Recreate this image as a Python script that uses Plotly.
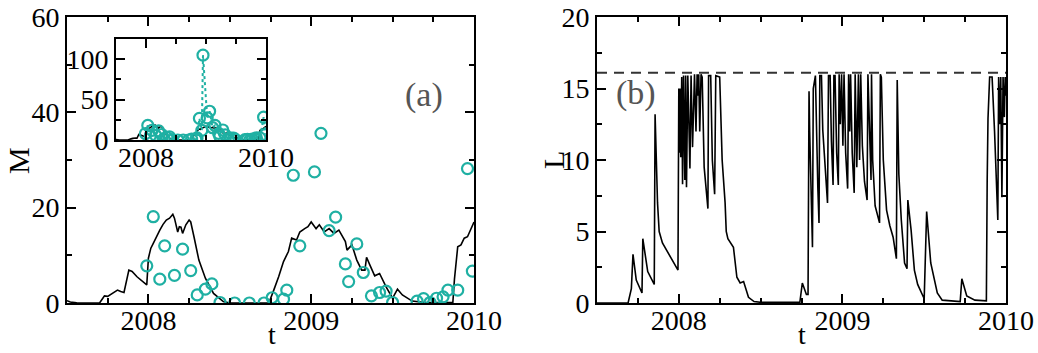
import plotly.graph_objects as go

# ---------------- data ----------------
# model curve M(t) (black line, panel a and inset)
model_t = [2007.50, 2007.52, 2007.56, 2007.70, 2007.72, 2007.73, 2007.75, 2007.78, 2007.81, 2007.83,
           2007.85, 2007.88, 2007.90, 2007.93, 2007.96, 2007.99, 2008.00, 2008.015, 2008.03, 2008.05,
           2008.07, 2008.09, 2008.11, 2008.13, 2008.15, 2008.16, 2008.18, 2008.19, 2008.20, 2008.21,
           2008.23, 2008.25, 2008.26, 2008.28, 2008.31, 2008.35, 2008.40, 2008.46, 2008.50, 2008.74,
           2008.75, 2008.77, 2008.80, 2008.83, 2008.86, 2008.88, 2008.91, 2008.93, 2008.96, 2008.98,
           2009.00, 2009.03, 2009.05, 2009.08, 2009.11, 2009.14, 2009.17, 2009.19, 2009.21, 2009.22,
           2009.25, 2009.28, 2009.31, 2009.33, 2009.34, 2009.36, 2009.39, 2009.42, 2009.46, 2009.50,
           2009.53, 2009.56, 2009.62, 2009.70, 2009.87, 2009.88, 2009.90, 2009.92, 2009.94, 2009.96,
           2009.98, 2010.00]
model_M = [0.5, 0.2, 0.05, 0.0, 1.0, 1.5, 1.4, 2.0, 2.7, 2.4,
           2.2, 6.9, 6.6, 5.5, 4.6, 3.8, 9.4, 11.5, 12.5, 14.0,
           15.3, 16.5, 17.4, 17.8, 18.6, 17.8, 14.9, 16.0, 15.9, 14.6,
           16.4, 17.4, 17.0, 13.9, 9.0, 5.2, 2.0, 0.3, 0.0, 0.0,
           1.0, 2.7, 5.5, 8.7, 10.8, 13.6, 13.2, 14.9, 15.6, 16.0,
           17.0, 15.6, 16.4, 14.9, 15.6, 14.6, 15.3, 14.0, 12.9, 11.1,
           12.2, 9.0, 6.9, 6.9, 9.6, 8.0, 5.7, 6.2, 3.4, 1.0,
           2.9, 1.7, 0.4, 0.1, 0.1, 5.0, 11.8, 12.2, 13.6, 13.9,
           15.5, 17.0]

# observed M (teal circles)
obs_t = [2007.99, 2008.03, 2008.07, 2008.10, 2008.16, 2008.21, 2008.26, 2008.30, 2008.35, 2008.39,
         2008.44, 2008.53, 2008.62, 2008.71, 2008.76, 2008.83, 2008.85, 2008.89, 2008.93, 2008.95,
         2009.02, 2009.06, 2009.11, 2009.15, 2009.21, 2009.23, 2009.28, 2009.32, 2009.37, 2009.42,
         2009.46, 2009.50, 2009.65, 2009.69, 2009.73, 2009.77, 2009.81, 2009.84, 2009.90, 2009.96,
         2009.99]
obs_M = [7.8, 18.1, 5.0, 12.0, 5.8, 11.3, 6.8, 1.7, 2.9, 4.0,
         0.1, 0.0, 0.0, 0.0, 1.1, 0.8, 2.7, 26.8, 12.0, 105.0,
         27.5, 35.6, 15.2, 18.0, 8.2, 4.5, 12.4, 6.4, 1.5, 2.2,
         2.5, 0.1, 0.4, 0.9, 0.1, 1.0, 1.3, 2.7, 2.7, 28.2,
         6.7]

# L(t) (panel b)
L_t = [2007.50, 2007.69, 2007.71, 2007.72, 2007.74, 2007.775, 2007.78, 2007.81, 2007.85, 2007.855,
       2007.87, 2007.88, 2007.90, 2007.94, 2007.97, 2007.995,
       2008.000, 2008.003, 2008.007, 2008.012, 2008.018, 2008.023, 2008.029, 2008.037, 2008.042, 2008.047,
       2008.055, 2008.068, 2008.075, 2008.084, 2008.096, 2008.105, 2008.112, 2008.116, 2008.122, 2008.128,
       2008.136, 2008.143, 2008.155, 2008.170, 2008.178, 2008.182, 2008.195, 2008.205, 2008.212, 2008.219,
       2008.226, 2008.250, 2008.265, 2008.283, 2008.290, 2008.300, 2008.334, 2008.355, 2008.375, 2008.396,
       2008.426, 2008.460, 2008.500, 2008.740, 2008.755, 2008.780,
       2008.790, 2008.796, 2008.800, 2008.817, 2008.822, 2008.835, 2008.850, 2008.857, 2008.862, 2008.872,
       2008.880, 2008.895, 2008.909, 2008.915, 2008.925, 2008.933, 2008.943, 2008.948, 2008.955, 2008.965,
       2008.975, 2008.980, 2008.987, 2008.995, 2009.003, 2009.010, 2009.020, 2009.032, 2009.038, 2009.045,
       2009.050, 2009.060, 2009.072, 2009.078, 2009.088, 2009.098, 2009.105, 2009.112, 2009.122, 2009.135,
       2009.151, 2009.156, 2009.165, 2009.175, 2009.178, 2009.185, 2009.200, 2009.227, 2009.232, 2009.238,
       2009.250, 2009.270, 2009.290, 2009.310, 2009.330, 2009.335, 2009.345, 2009.360, 2009.380, 2009.395,
       2009.400, 2009.420, 2009.440, 2009.460, 2009.500, 2009.515, 2009.540, 2009.580, 2009.610, 2009.690,
       2009.720, 2009.730, 2009.760, 2009.810, 2009.880,
       2009.885, 2009.890, 2009.900, 2009.915, 2009.930, 2009.940, 2009.950, 2009.955, 2009.962, 2009.968,
       2009.975, 2009.982, 2009.990, 2009.995, 2010.000]
L_v = [0.0, 0.0, 1.0, 3.4, 1.6, 0.7, 4.5, 2.2, 1.3, 13.2,
       7.0, 5.0, 4.2, 3.4, 2.7, 2.3,
       15.0, 10.5, 15.0, 10.2, 15.8, 8.3, 15.9, 8.6, 15.9, 8.1,
       15.9, 9.4, 15.9, 10.9, 16.0, 12.0, 16.0, 14.5, 16.0, 12.0,
       16.0, 15.8, 9.5, 7.2, 6.6, 15.9, 15.9, 10.0, 8.5, 7.6,
       15.9, 15.8, 10.0, 7.0, 5.0, 4.5, 3.9, 1.8, 1.4, 1.5,
       0.4, 0.1, 0.05, 0.05, 1.4, 0.6,
       0.6, 14.8, 12.0, 3.9, 15.0, 15.9, 8.0, 5.6, 15.9, 15.9,
       12.1, 9.0, 7.0, 15.9, 15.9, 11.3, 8.25, 15.9, 15.9, 10.5,
       8.25, 16.0, 12.5, 16.0, 11.0, 16.0, 10.5, 8.0, 16.0, 12.0,
       16.0, 10.5, 7.7, 16.0, 9.5, 16.0, 10.0, 16.0, 11.0, 8.5,
       7.2, 16.0, 12.0, 8.6, 16.0, 10.0, 6.8, 5.6, 16.0, 15.8,
       10.0, 6.5, 5.4, 4.6, 3.1, 15.6, 9.0, 5.8, 2.8, 2.4,
       7.2, 5.1, 2.3, 1.3, 0.3, 6.4, 2.8, 0.7, 0.2, 0.15,
       0.1, 1.7, 0.5, 0.2, 0.15,
       8.6, 12.9, 15.8, 15.8, 12.0, 8.0, 5.8, 15.8, 12.5, 15.8,
       7.4, 15.8, 13.0, 15.8, 14.5]

L_max = 16.1          # dashed reference level
t_range = [2007.5, 2010.0]

# ---------------- styling ----------------
W, H = 1038, 353
TEAL = "#1fb0a3"
FONT = "Liberation Serif"
TICKFONT = dict(family=FONT, size=28, color="black")


def fx(p):
    return p / W


def fy(p):
    return 1 - p / H


fig = go.Figure()

# panel (a)
fig.add_trace(go.Scatter(x=model_t, y=model_M, mode="lines",
                         line=dict(color="black", width=1.6), xaxis="x", yaxis="y"))
fig.add_trace(go.Scatter(x=obs_t, y=obs_M, mode="markers",
                         marker=dict(symbol="circle-open", size=11, color=TEAL, line=dict(width=2.2, color=TEAL)),
                         xaxis="x", yaxis="y"))
# panel (b)
fig.add_trace(go.Scatter(x=t_range, y=[L_max, L_max], mode="lines",
                         line=dict(color="#333333", width=2, dash="10px,7px"), xaxis="x2", yaxis="y2"))
fig.add_trace(go.Scatter(x=L_t, y=L_v, mode="lines",
                         line=dict(color="black", width=1.6), xaxis="x2", yaxis="y2"))
# inset
fig.add_trace(go.Scatter(x=model_t, y=model_M, mode="lines",
                         line=dict(color="black", width=1.6), xaxis="x3", yaxis="y3"))
fig.add_trace(go.Scatter(x=obs_t, y=obs_M, mode="lines+markers",
                         line=dict(color=TEAL, width=2, dash="dot"),
                         marker=dict(symbol="circle-open", size=11, color=TEAL, line=dict(width=2.2, color=TEAL)),
                         xaxis="x3", yaxis="y3"))


def axis(domain, rng, dtick, tick0, minor_dtick, anchor, standoff=0):
    return dict(domain=domain, range=rng, anchor=anchor, tickmode="linear", dtick=dtick, tick0=tick0,
                ticks="inside", ticklen=9, tickwidth=1.5, tickcolor="black",
                showline=True, linecolor="black", linewidth=2, mirror="ticks",
                showgrid=False, zeroline=False, tickfont=TICKFONT,
                automargin=False, ticklabelstandoff=standoff,
                minor=dict(dtick=minor_dtick, tick0=tick0, ticks="inside", ticklen=5,
                           tickwidth=1.5, tickcolor="black", showgrid=False))


ax_a = [fx(67), fx(474)]
ax_b = [fx(597), fx(1006)]
ay = [fy(303), fy(17)]

fig.update_layout(
    width=W, height=H, margin=dict(l=0, r=0, t=0, b=0, autoexpand=False),
    paper_bgcolor="white", plot_bgcolor="white", showlegend=False,
    xaxis=axis(ax_a, t_range, 1, 2008, 0.25, "y", standoff=-9),
    yaxis=axis(ay, [0, 60], 20, 0, 10, "x"),
    xaxis2=axis(ax_b, t_range, 1, 2008, 0.25, "y2", standoff=-9),
    yaxis2=axis(ay, [0, 20], 5, 0, 2.5, "x2"),
    xaxis3=axis([fx(116), fx(266)], t_range, 2, 2008, 0.5, "y3", standoff=-9),
    yaxis3=axis([fy(140), fy(39)], [0, 125], 50, 0, 25, "x3"),
)

annots = [
    dict(text="M", x=fx(18), y=fy(160), textangle=-90, font=dict(family=FONT, size=30)),
    dict(text="t", x=fx(272), y=fy(352), yanchor="bottom", font=dict(family=FONT, size=28)),
    dict(text="L", x=fx(553), y=fy(160), textangle=-90, font=dict(family=FONT, size=30)),
    dict(text="t", x=fx(802), y=fy(352), yanchor="bottom", font=dict(family=FONT, size=28)),
    dict(text="(a)", x=fx(424), y=fy(95), font=dict(family=FONT, size=34, color="#555555")),
    dict(text="(b)", x=fx(636), y=fy(93), font=dict(family=FONT, size=34, color="#555555")),
]
for a in annots:
    a.setdefault("yanchor", "middle")
    a.update(xref="paper", yref="paper", showarrow=False, xanchor="center")
    a["font"].setdefault("color", "black")
fig.update_layout(annotations=annots)

fig.write_html("out.html")
